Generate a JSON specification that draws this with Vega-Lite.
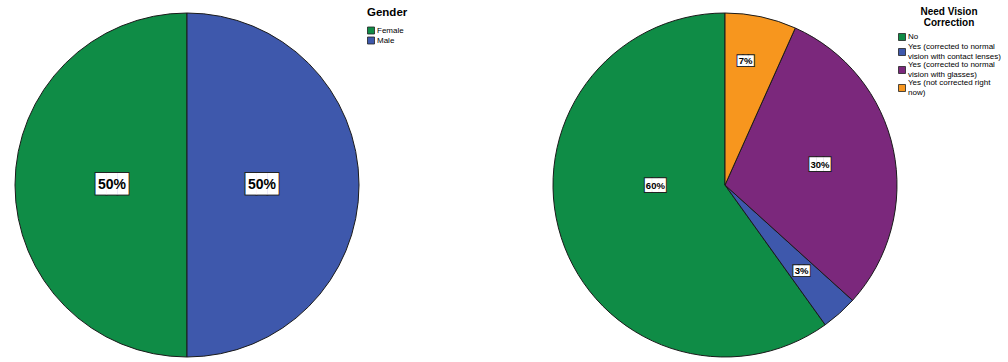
{
  "$schema": "https://vega.github.io/schema/vega-lite/v6.json",
  "padding": {"top": 7, "left": 13, "right": 0, "bottom": 0},
  "background": "white",
  "spacing": 143,
  "config": {
    "view": {"stroke": null},
    "font": "Liberation Sans",
    "legend": {
      "symbolType": "square",
      "symbolSize": 49,
      "symbolStrokeColor": "#222222",
      "symbolStrokeWidth": 0.8,
      "labelFont": "Liberation Sans",
      "labelFontSize": 8,
      "labelColor": "#000000",
      "titleFont": "Liberation Sans",
      "titleColor": "#000000",
      "titleFontWeight": "bold",
      "rowPadding": -3,
      "labelOffset": 2
    }
  },
  "hconcat": [
    {
      "width": 344,
      "height": 356,
      "data": {"values": [
        {"gender": "Female", "pct": 0.5},
        {"gender": "Male", "pct": 0.5}
      ]},
      "encoding": {
        "theta": {"field": "pct", "type": "quantitative", "stack": true},
        "order": {"field": "gender", "sort": "descending"},
        "color": {
          "field": "gender", "type": "nominal",
          "scale": {"domain": ["Female", "Male"], "range": ["#0F8C46", "#3E58AC"]},
          "legend": {"title": "Gender", "offset": 8, "titleFontSize": 11.5, "titlePadding": 8}
        }
      },
      "layer": [
        {"mark": {"type": "arc", "stroke": "#1a1a1a", "strokeWidth": 1}},
        {"mark": {"type": "text", "radius": 75, "text": "███", "fontSize": 18, "font": "DejaVu Sans Mono", "stroke": "#222222", "strokeWidth": 2},
         "encoding": {"color": {"value": "white"}}},
        {"mark": {"type": "text", "radius": 75, "text": "███", "fontSize": 18, "font": "DejaVu Sans Mono"},
         "encoding": {"color": {"value": "white"}}},
        {"mark": {"type": "text", "radius": 75, "fontSize": 14, "fontWeight": "bold"},
         "encoding": {"text": {"field": "pct", "format": ".0%"}, "color": {"value": "black"}}}
      ]
    },
    {
      "width": 344,
      "height": 356,
      "data": {"values": [
        {"vision": "No", "pct": 0.599},
        {"vision": "Yes (corrected to normal vision with contact lenses)", "pct": 0.034},
        {"vision": "Yes (corrected to normal vision with glasses)", "pct": 0.3},
        {"vision": "Yes (not corrected right now)", "pct": 0.067}
      ]},
      "encoding": {
        "theta": {"field": "pct", "type": "quantitative", "stack": true},
        "order": {"field": "vision", "sort": "descending"},
        "color": {
          "field": "vision", "type": "nominal",
          "scale": {
            "domain": ["No", "Yes (corrected to normal vision with contact lenses)", "Yes (corrected to normal vision with glasses)", "Yes (not corrected right now)"],
            "range": ["#0F8C46", "#3E58AC", "#7B287C", "#F7961E"]
          },
          "legend": {
            "title": ["Need Vision", "Correction"],
            "titleFontSize": 10,
            "titleLineHeight": 11,
            "titleAlign": "center",
            "titleAnchor": "middle",
            "titlePadding": 5,
            "offset": 1,
            "labelExpr": "split(replace(replace(datum.label, 'normal ', 'normal|'), 'right ', 'right|'), '|')",
            "encode": {
              "symbols": {
                "update": {
                  "shape": {"signal": "datum.value === 'No' ? 'square' : 'M-1,0.43H1V2.43H-1Z'"}
                }
              }
            }
          }
        }
      },
      "layer": [
        {"mark": {"type": "arc", "stroke": "#1a1a1a", "strokeWidth": 1}},

        {"mark": {"type": "text", "radius": 70, "dy": -20, "dx": -3, "fontSize": 11.5, "font": "DejaVu Sans Mono", "stroke": "#222222", "strokeWidth": 2},
         "encoding": {"text": {"condition": {"test": "datum.vision === 'No'", "value": "███"}, "value": ""}, "color": {"value": "white"}}},
        {"mark": {"type": "text", "radius": 70, "dy": -20, "dx": -3, "fontSize": 11.5, "font": "DejaVu Sans Mono"},
         "encoding": {"text": {"condition": {"test": "datum.vision === 'No'", "value": "███"}, "value": ""}, "color": {"value": "white"}}},
        {"mark": {"type": "text", "radius": 70, "dy": -20, "dx": -3, "fontSize": 9.5, "fontWeight": "bold"},
         "encoding": {"text": {"condition": {"test": "datum.vision === 'No'", "field": "pct", "format": ".0%"}, "value": ""}, "color": {"value": "black"}}},

        {"mark": {"type": "text", "radius": 115, "fontSize": 9, "font": "DejaVu Sans Mono", "stroke": "#222222", "strokeWidth": 2},
         "encoding": {"text": {"condition": {"test": "datum.vision === 'Yes (corrected to normal vision with contact lenses)'", "value": "███"}, "value": ""}, "color": {"value": "white"}}},
        {"mark": {"type": "text", "radius": 115, "fontSize": 9, "font": "DejaVu Sans Mono"},
         "encoding": {"text": {"condition": {"test": "datum.vision === 'Yes (corrected to normal vision with contact lenses)'", "value": "███"}, "value": ""}, "color": {"value": "white"}}},
        {"mark": {"type": "text", "radius": 115, "fontSize": 9.5, "fontWeight": "bold"},
         "encoding": {"text": {"condition": {"test": "datum.vision === 'Yes (corrected to normal vision with contact lenses)'", "field": "pct", "format": ".0%"}, "value": ""}, "color": {"value": "black"}}},

        {"mark": {"type": "text", "radius": 97, "fontSize": 11.5, "font": "DejaVu Sans Mono", "stroke": "#222222", "strokeWidth": 2},
         "encoding": {"text": {"condition": {"test": "datum.vision === 'Yes (corrected to normal vision with glasses)'", "value": "███"}, "value": ""}, "color": {"value": "white"}}},
        {"mark": {"type": "text", "radius": 97, "fontSize": 11.5, "font": "DejaVu Sans Mono"},
         "encoding": {"text": {"condition": {"test": "datum.vision === 'Yes (corrected to normal vision with glasses)'", "value": "███"}, "value": ""}, "color": {"value": "white"}}},
        {"mark": {"type": "text", "radius": 97, "fontSize": 9.5, "fontWeight": "bold"},
         "encoding": {"text": {"condition": {"test": "datum.vision === 'Yes (corrected to normal vision with glasses)'", "field": "pct", "format": ".0%"}, "value": ""}, "color": {"value": "black"}}},

        {"mark": {"type": "text", "radius": 127, "dx": -6, "fontSize": 9, "font": "DejaVu Sans Mono", "stroke": "#222222", "strokeWidth": 2},
         "encoding": {"text": {"condition": {"test": "datum.vision === 'Yes (not corrected right now)'", "value": "███"}, "value": ""}, "color": {"value": "white"}}},
        {"mark": {"type": "text", "radius": 127, "dx": -6, "fontSize": 9, "font": "DejaVu Sans Mono"},
         "encoding": {"text": {"condition": {"test": "datum.vision === 'Yes (not corrected right now)'", "value": "███"}, "value": ""}, "color": {"value": "white"}}},
        {"mark": {"type": "text", "radius": 127, "dx": -6, "fontSize": 9.5, "fontWeight": "bold"},
         "encoding": {"text": {"condition": {"test": "datum.vision === 'Yes (not corrected right now)'", "field": "pct", "format": ".0%"}, "value": ""}, "color": {"value": "black"}}}
      ]
    }
  ],
  "resolve": {"scale": {"color": "independent", "theta": "independent"}}
}
